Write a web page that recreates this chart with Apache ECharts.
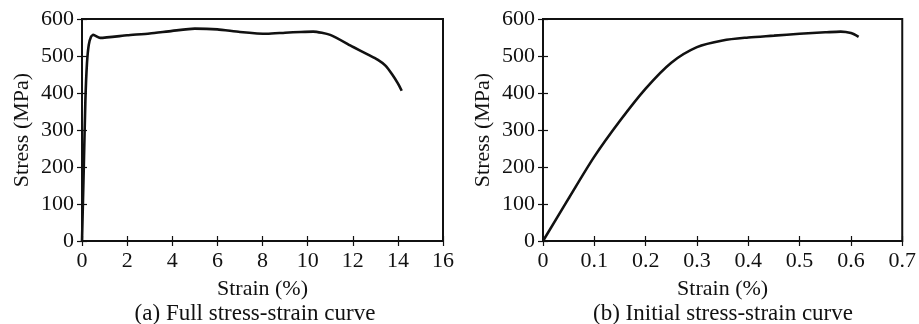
<!DOCTYPE html>
<html>
<head>
<meta charset="utf-8">
<script src="https://cdn.jsdelivr.net/npm/echarts@6/dist/echarts.min.js"></script>
<style>
  html, body { margin: 0; padding: 0; background: #fff; }
  #chart { width: 919px; height: 324px; }
</style>
</head>
<body>
<div id="chart"></div>
<script>
// (a) full curve: [strain %, stress MPa]
var fullCurve = [
  [0, 0], [0.08, 200], [0.15, 380], [0.22, 480], [0.3, 530], [0.4, 552], [0.5, 557],
  [0.8, 549], [2, 556], [3, 561], [4, 568], [5, 574], [6, 572], [7, 565],
  [8.2, 560], [9, 563], [9.7, 565], [10.25, 566], [11, 557], [12, 525],
  [12.7, 503], [13.1, 490], [13.45, 474], [13.75, 450], [14, 426], [14.17, 406]
];
// (b) initial part of the curve
var initCurve = [
  [0, 0], [0.05, 115], [0.1, 228], [0.15, 325], [0.2, 412], [0.25, 482],
  [0.3, 524], [0.35, 542], [0.4, 550], [0.45, 555], [0.5, 560], [0.55, 564],
  [0.58, 566], [0.6, 562], [0.615, 552]
];
var captions = ['(a) Full stress-strain curve', '(b) Initial stress-strain curve'];
var xMax = [16, 0.7];
var xStep = [2, 0.1];

var font = 'Liberation Serif';
var ink = '#111';

function bottomAxis(i) {
  return {
    type: 'value', gridIndex: i, min: 0, max: xMax[i], interval: xStep[i],
    name: 'Strain (%)', nameLocation: 'middle', nameGap: 37,
    nameTextStyle: { fontFamily: font, fontSize: 22, color: ink },
    axisLine: { show: false },
    axisTick: { inside: true, length: 5, lineStyle: { color: ink, width: 1.2 } },
    axisLabel: { fontFamily: font, fontSize: 22, color: ink, margin: 9 },
    splitLine: { show: false }
  };
}
function topAxis(i) {
  return {
    type: 'value', gridIndex: i, position: 'top', min: 0, max: xMax[i], interval: xStep[i],
    axisLine: { show: false },
    axisTick: { inside: true, length: 5, lineStyle: { color: ink, width: 1.2 } },
    axisLabel: { show: false }, splitLine: { show: false }
  };
}
function leftAxis(i) {
  return {
    type: 'value', gridIndex: i, min: 0, max: 600, interval: 100,
    name: 'Stress (MPa)', nameLocation: 'middle', nameGap: 49,
    nameTextStyle: { fontFamily: font, fontSize: 22, color: ink },
    axisLine: { show: false },
    axisTick: { inside: true, length: 5, lineStyle: { color: ink, width: 1.2 } },
    axisLabel: { fontFamily: font, fontSize: 22, color: ink, margin: 8 },
    splitLine: { show: false }
  };
}
function rightAxis(i) {
  return {
    type: 'value', gridIndex: i, position: 'right', min: 0, max: 600, interval: 100,
    axisLine: { show: false },
    axisTick: { inside: true, length: 5, lineStyle: { color: ink, width: 1.2 } },
    axisLabel: { show: false }, splitLine: { show: false }
  };
}

var myChart = echarts.init(document.getElementById('chart'));
var option = {
  animation: false,
  backgroundColor: '#fff',
  title: [
    { text: captions[0], left: 250, top: 297, textAlign: 'center',
      textStyle: { fontFamily: font, fontSize: 23, fontWeight: 'normal', color: ink } },
    { text: captions[1], left: 718, top: 297, textAlign: 'center',
      textStyle: { fontFamily: font, fontSize: 23, fontWeight: 'normal', color: ink } }
  ],
  grid: [
    { left: 82, top: 19, width: 361, height: 222, show: true, borderColor: ink, borderWidth: 2 },
    { left: 543, top: 19, width: 361, height: 222, show: true, borderColor: ink, borderWidth: 2 }
  ],
  xAxis: [bottomAxis(0), topAxis(0), bottomAxis(1), topAxis(1)],
  yAxis: [leftAxis(0), rightAxis(0), leftAxis(1), rightAxis(1)],
  series: [
    { type: 'line', xAxisIndex: 0, yAxisIndex: 0, data: fullCurve, showSymbol: false,
      smooth: 0.2, lineStyle: { color: ink, width: 2.6 } },
    { type: 'line', xAxisIndex: 2, yAxisIndex: 2, data: initCurve, showSymbol: false,
      smooth: 0.3, lineStyle: { color: ink, width: 2.6 } }
  ]
};
myChart.setOption(option);
</script>
</body>
</html>
